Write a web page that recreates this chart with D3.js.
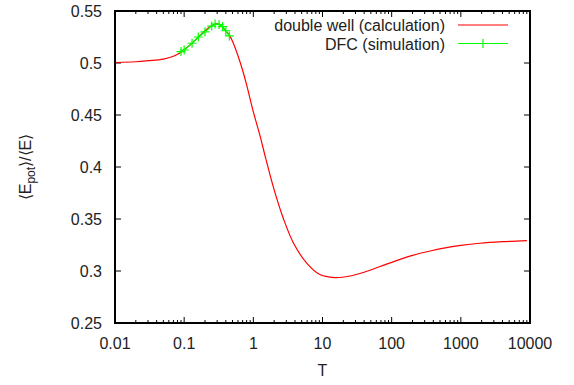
<!DOCTYPE html>
<html>
<head>
<meta charset="utf-8">
<script src="https://cdn.jsdelivr.net/npm/d3@7/dist/d3.min.js"></script>
<style>
  html, body { margin: 0; padding: 0; background: #fff; }
  svg { display: block; }
  text { font-family: "Liberation Sans", Arial, Helvetica, sans-serif; fill: #222; }
</style>
</head>
<body>
<svg id="chart" width="574" height="385"></svg>
<script>
// ---- data ----
const calcT = [0.01, 0.02, 0.03, 0.05, 0.07, 0.09, 0.12, 0.15, 0.2, 0.25, 0.3, 0.35, 0.4, 0.45, 0.5, 0.6, 0.7, 0.8, 1.0, 1.25, 1.5, 2, 2.7, 3.8, 6, 9, 15, 25, 40, 68, 120, 200, 360, 620, 1000, 1900, 4000, 9000];
const calcV = [0.5005, 0.5012, 0.5022, 0.5038, 0.5065, 0.5103, 0.517, 0.523, 0.531, 0.536, 0.5378, 0.535, 0.531, 0.5265, 0.521, 0.507, 0.493, 0.479, 0.453, 0.43, 0.409, 0.378, 0.351, 0.327, 0.307, 0.2968, 0.2937, 0.2952, 0.2988, 0.3043, 0.3102, 0.3150, 0.3192, 0.3224, 0.3246, 0.3267, 0.3282, 0.3293];
const simT = [0.09, 0.1, 0.13, 0.16, 0.2, 0.25, 0.28, 0.32, 0.36, 0.4, 0.45];
const simV = [0.511, 0.5125, 0.519, 0.525, 0.530, 0.5355, 0.5375, 0.537, 0.535, 0.531, 0.526];
const xTicks = [0.01, 0.1, 1, 10, 100, 1000, 10000];
const xTickLabels = ["0.01", "0.1", "1", "10", "100", "1000", "10000"];
const yTicks = [0.25, 0.3, 0.35, 0.4, 0.45, 0.5, 0.55];
const yTickLabels = ["0.25", "0.3", "0.35", "0.4", "0.45", "0.5", "0.55"];
const seriesNames = ["double well (calculation)", "DFC (simulation)"];
const seriesColors = ["#ff0000", "#00ff00"];

// ---- layout ----
const L = 115, R = 530, T = 11, B = 323;
const svg = d3.select("#chart");
const x = d3.scaleLog().domain([0.01, 10000]).range([L, R]);
const y = d3.scaleLinear().domain([0.25, 0.55]).range([B, T]);

const minor = [];
for (let e = -2; e < 4; e++) for (let k = 2; k <= 9; k++) minor.push(k * Math.pow(10, e));

const g = svg.append("g");
g.selectAll(".xmaj").data(xTicks).join("g").each(function(d) {
  const s = d3.select(this), px = x(d);
  s.append("line").attr("x1", px).attr("x2", px).attr("y1", B).attr("y2", B - 6).attr("stroke", "#000").attr("stroke-width", 1);
  s.append("line").attr("x1", px).attr("x2", px).attr("y1", T).attr("y2", T + 6).attr("stroke", "#000").attr("stroke-width", 1);
});
g.selectAll(".xmin").data(minor).join("g").each(function(d) {
  const s = d3.select(this), px = x(d);
  s.append("line").attr("x1", px).attr("x2", px).attr("y1", B).attr("y2", B - 3).attr("stroke", "#000").attr("stroke-width", 1);
  s.append("line").attr("x1", px).attr("x2", px).attr("y1", T).attr("y2", T + 3).attr("stroke", "#000").attr("stroke-width", 1);
});
g.selectAll(".ymaj").data(yTicks).join("g").each(function(d) {
  const s = d3.select(this), py = y(d);
  s.append("line").attr("x1", L).attr("x2", L + 6).attr("y1", py).attr("y2", py).attr("stroke", "#000").attr("stroke-width", 1);
  s.append("line").attr("x1", R).attr("x2", R - 6).attr("y1", py).attr("y2", py).attr("stroke", "#000").attr("stroke-width", 1);
});

g.selectAll(".xl").data(xTicks).join("text")
  .attr("x", d => x(d)).attr("y", 349).attr("text-anchor", "middle")
  .attr("font-size", 16).text((d, i) => xTickLabels[i]);
g.selectAll(".yl").data(yTicks).join("text")
  .attr("x", 102).attr("y", d => y(d) + 6).attr("text-anchor", "end")
  .attr("font-size", 16).text((d, i) => yTickLabels[i]);

svg.append("text").attr("x", (L + R) / 2).attr("y", 376).attr("text-anchor", "middle").attr("font-size", 16).text("T");
const yl = svg.append("text").attr("transform", "translate(31,167) rotate(-90)").attr("text-anchor", "middle").attr("font-size", 16);
yl.append("tspan").text("\u27E8E");
yl.append("tspan").attr("font-size", 12).attr("dy", 4).text("pot");
yl.append("tspan").attr("dy", -4).text("\u27E9/\u27E8E\u27E9");

svg.append("clipPath").attr("id", "clip").append("rect").attr("x", L).attr("y", T).attr("width", R - L).attr("height", B - T);

const calc = calcT.map((t, i) => [t, calcV[i]]);
const line = d3.line().x(d => x(d[0])).y(d => y(d[1])).curve(d3.curveCatmullRom.alpha(0.5));
svg.append("path").attr("d", line(calc)).attr("fill", "none").attr("stroke", seriesColors[0]).attr("stroke-width", 1.2).attr("clip-path", "url(#clip)");

const sim = simT.map((t, i) => [t, simV[i]]);
svg.append("path").attr("d", d3.line().x(d => x(d[0])).y(d => y(d[1]))(sim)).attr("fill", "none").attr("stroke", seriesColors[1]).attr("stroke-width", 1.2);
const ms = 4.5;
svg.selectAll(".mk").data(sim).join("path")
  .attr("d", d => { const px = x(d[0]), py = y(d[1]); return `M${px - ms},${py}H${px + ms}M${px},${py - ms}V${py + ms}`; })
  .attr("stroke", seriesColors[1]).attr("stroke-width", 1.2).attr("fill", "none");

svg.append("rect").attr("x", L).attr("y", T).attr("width", R - L).attr("height", B - T).attr("fill", "none").attr("stroke", "#000").attr("stroke-width", 2);

const legY = [25, 43.5];
seriesNames.forEach((n, i) => {
  svg.append("text").attr("x", 445).attr("y", legY[i] + 6).attr("text-anchor", "end").attr("font-size", 16).text(n);
  svg.append("line").attr("x1", 458).attr("x2", 508).attr("y1", legY[i]).attr("y2", legY[i]).attr("stroke", seriesColors[i]).attr("stroke-width", 1.2);
});
svg.append("path").attr("d", `M${483 - ms},${legY[1]}H${483 + ms}M483,${legY[1] - ms}V${legY[1] + ms}`).attr("stroke", seriesColors[1]).attr("stroke-width", 1.2);
</script>
</body>
</html>
